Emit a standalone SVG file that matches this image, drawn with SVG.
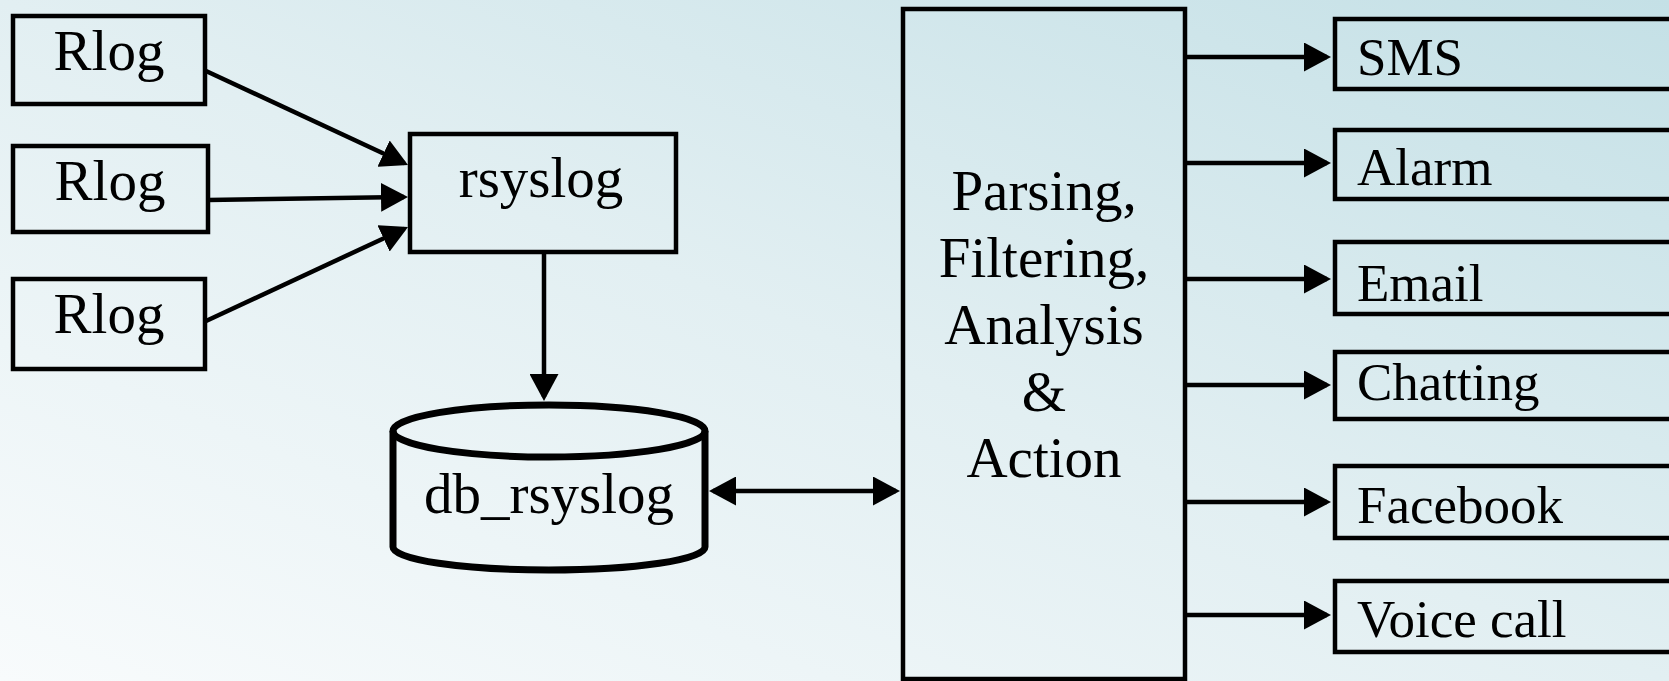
<svg xmlns="http://www.w3.org/2000/svg" width="1669" height="681" viewBox="0 0 1669 681">
<defs>
<linearGradient id="bg" x1="0" y1="1" x2="1" y2="0">
<stop offset="0" stop-color="#f8fbfc"/>
<stop offset="0.5" stop-color="#e2eff2"/>
<stop offset="1" stop-color="#c4e0e6"/>
</linearGradient>
<marker id="ah" viewBox="0 0 27 29" refX="23" refY="14.5" markerWidth="27" markerHeight="29" markerUnits="userSpaceOnUse" orient="auto-start-reverse">
<path d="M0,0 L27,14.5 L0,29 z" fill="#000"/>
</marker>
<style>
.box{fill:none;stroke:#000;stroke-width:4.5}
.cyl{fill:none;stroke:#000;stroke-width:7}
.t{font-family:"Liberation Serif","Times New Roman",serif;fill:#000}
.l{font-size:57px}
.r{font-size:53px}
.c{stroke:#000;stroke-width:4.5;fill:none;marker-end:url(#ah)}
</style>
</defs>
<rect x="0" y="0" width="1669" height="681" fill="url(#bg)"/>

<g id="rlog1"><rect class="box" x="13" y="16" width="192" height="88"/><text class="t l" x="109" y="70" text-anchor="middle">Rlog</text></g>
<g id="rlog2"><rect class="box" x="13" y="146" width="195" height="86"/><text class="t l" x="110" y="200" text-anchor="middle">Rlog</text></g>
<g id="rlog3"><rect class="box" x="13" y="279" width="192" height="90"/><text class="t l" x="109" y="333" text-anchor="middle">Rlog</text></g>
<g id="rsyslog"><rect class="box" x="410" y="134" width="266" height="118"/><text class="t l" x="541" y="197" text-anchor="middle">rsyslog</text></g>
<g id="db_rsyslog">
<path class="cyl" d="M393,431 L393,547 A156,23 0 0 0 705,547 L705,431"/>
<ellipse class="cyl" cx="549" cy="431" rx="156" ry="26"/>
<text class="t l" x="549" y="513" text-anchor="middle">db_rsyslog</text>
</g>
<g id="processor"><rect class="box" x="903" y="9" width="282" height="670"/>
<text class="t l" text-anchor="middle"><tspan x="1044" y="210">Parsing,</tspan><tspan x="1044" y="277">Filtering,</tspan><tspan x="1044" y="344">Analysis</tspan><tspan x="1044" y="411">&amp;</tspan><tspan x="1044" y="477">Action</tspan></text>
</g>
<g id="sms"><rect class="box" x="1335" y="19" width="345" height="70"/><text class="t r" x="1357" y="75">SMS</text></g>
<g id="alarm"><rect class="box" x="1335" y="130" width="345" height="69"/><text class="t r" x="1357" y="185">Alarm</text></g>
<g id="email"><rect class="box" x="1335" y="242" width="345" height="72"/><text class="t r" x="1357" y="301">Email</text></g>
<g id="chatting"><rect class="box" x="1335" y="352" width="345" height="67"/><text class="t r" x="1357" y="400">Chatting</text></g>
<g id="facebook"><rect class="box" x="1335" y="466" width="345" height="72"/><text class="t r" x="1357" y="523">Facebook</text></g>
<g id="voicecall"><rect class="box" x="1335" y="581" width="345" height="71"/><text class="t r" x="1357" y="637">Voice call</text></g>

<g id="connectors">
<line class="c" x1="206" y1="71" x2="404.4" y2="163.3"/>
<line class="c" x1="208" y1="200" x2="404" y2="197"/>
<line class="c" x1="206" y1="321" x2="404.4" y2="228.7"/>
<line class="c" x1="544" y1="252" x2="544" y2="397"/>
<line class="c" x1="713" y1="491" x2="896" y2="491" marker-start="url(#ah)"/>
<line class="c" x1="1185" y1="57" x2="1327" y2="57"/>
<line class="c" x1="1185" y1="163" x2="1327" y2="163"/>
<line class="c" x1="1185" y1="279" x2="1327" y2="279"/>
<line class="c" x1="1185" y1="385" x2="1327" y2="385"/>
<line class="c" x1="1185" y1="502" x2="1327" y2="502"/>
<line class="c" x1="1185" y1="615" x2="1327" y2="615"/>
</g>
</svg>
